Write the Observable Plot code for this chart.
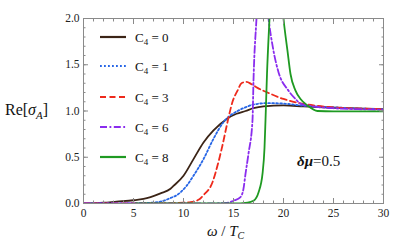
<!DOCTYPE html>
<html><head><meta charset="utf-8">
<script src="https://cdn.jsdelivr.net/npm/d3@7"></script>
<script src="https://cdn.jsdelivr.net/npm/@observablehq/plot@0.6"></script>
<style>
body{margin:0;background:#fff}
#chart{width:415px;height:250px}
#chart svg text{font-family:'Liberation Serif','DejaVu Serif',serif}
</style>
</head><body><div id="chart"></div>
<script>
// ---- data ----
const seriesNames = ["0", "1", "3", "6", "8"]; // C4 values

const c0X = [0, 2, 3.3, 5, 6, 6.7, 7.7, 8.7, 9, 10, 11, 12, 13, 14.4, 15.3, 16.2, 17, 18, 20, 22, 25, 28, 30];
const c0Y = [0, 0.008, 0.02, 0.035, 0.05, 0.07, 0.11, 0.16, 0.19, 0.30, 0.48, 0.66, 0.79, 0.92, 0.97, 1.0, 1.03, 1.05, 1.06, 1.05, 1.035, 1.025, 1.02];

const c1X = [0, 3, 5, 6, 7, 7.7, 8.5, 9.7, 10.3, 11, 12, 13, 14, 15.4, 16.2, 17, 18.4, 20, 21.7, 23, 25, 28, 30];
const c1Y = [0, 0, 0.003, 0.006, 0.01, 0.02, 0.05, 0.12, 0.19, 0.30, 0.48, 0.70, 0.88, 1.0, 1.04, 1.07, 1.085, 1.08, 1.06, 1.05, 1.04, 1.025, 1.02];

const c3X = [0, 5, 8, 9, 10, 10.7, 11.5, 12, 12.9, 13.4, 13.9, 14.4, 14.9, 15.4, 15.8, 16.3, 16.8, 17.4, 18.4, 20, 21.4, 23, 25, 28, 30];
const c3Y = [0, 0, 0.003, 0.005, 0.01, 0.015, 0.04, 0.09, 0.23, 0.41, 0.63, 0.88, 1.1, 1.22, 1.30, 1.315, 1.29, 1.25, 1.2, 1.13, 1.09, 1.06, 1.04, 1.025, 1.02];

const c6X = [0, 8, 12, 14, 14.5, 15, 15.7, 16.0, 16.2, 16.5, 16.9, 17.0, 17.3, 17.8, 18.5, 19.0, 19.5, 20.5, 21.2, 21.7, 23, 25, 27.5, 30];
const c6Y = [0, 0, 0, 0.005, 0.01, 0.03, 0.07, 0.16, 0.32, 0.54, 0.9, 1.33, 2.0, 2.8, 2.0, 1.65, 1.42, 1.22, 1.13, 1.08, 1.05, 1.03, 1.02, 1.015];

const c8X = [5.2, 10, 15, 16.4, 17, 17.5, 17.9, 18.1, 18.2, 18.35, 18.6, 19.2, 20.0, 20.4, 20.7, 21.2, 21.7, 22.4, 23.4, 25, 27.5, 30];
const c8Y = [0, 0, 0, 0.01, 0.03, 0.12, 0.32, 0.6, 0.9, 1.4, 2.0, 3.2, 2.0, 1.65, 1.4, 1.22, 1.13, 1.06, 1.0, 0.995, 0.995, 0.995];

const xMajorTicks = [0, 5, 10, 15, 20, 25, 30];
const yMajorTicks = [0, 0.5, 1.0, 1.5, 2.0];
const xMinorTicks = d3.range(0, 31, 1);
const yMinorTicks = d3.range(0, 2.001, 0.1);

// ---- styles ----
const colors = ["#3b2416", "#2766e6", "#ee2a1c", "#8a2cee", "#1f9a22"];
const dashes = [null, "1.8,2.2", "6,3.5", "7,2.5,1.8,2.5", null];

const seriesX = [c0X, c1X, c3X, c6X, c8X];
const seriesY = [c0Y, c1Y, c3Y, c6Y, c8Y];
const rows = [];
seriesX.forEach((xs, i) => xs.forEach((x, j) => rows.push({k: i, x, y: seriesY[i][j]})));

const tickColor = "#8a8a8a";
const plot = Plot.plot({
  width: 415, height: 250,
  marginLeft: 83, marginRight: 32, marginTop: 18, marginBottom: 47,
  style: {fontSize: "11.5px", color: "#222", background: "#fff"},
  x: {domain: [0, 30]},
  y: {domain: [0, 2]},
  marks: [
    ...seriesNames.map((_, i) => Plot.line(rows.filter(r => r.k === i), {
      x: "x", y: "y", stroke: colors[i], strokeWidth: 1.8,
      strokeDasharray: dashes[i], curve: "monotone-x", clip: true
    })),
    Plot.frame({stroke: tickColor}),
    Plot.axisX({ticks: xMinorTicks, tickSize: -2.5, tickFormat: () => "", label: null, stroke: tickColor}),
    Plot.axisX({ticks: xMajorTicks, tickSize: -5, tickFormat: () => "", label: null, stroke: tickColor}),
    Plot.axisX({anchor: "top", ticks: xMinorTicks, tickSize: -2.5, tickFormat: () => "", label: null, stroke: tickColor}),
    Plot.axisX({anchor: "top", ticks: xMajorTicks, tickSize: -5, tickFormat: () => "", label: null, stroke: tickColor}),
    Plot.axisY({ticks: yMinorTicks, tickSize: -2.5, tickFormat: () => "", label: null, stroke: tickColor}),
    Plot.axisY({ticks: yMajorTicks, tickSize: -5, tickFormat: () => "", label: null, stroke: tickColor}),
    Plot.axisY({anchor: "right", ticks: yMinorTicks, tickSize: -2.5, tickFormat: () => "", label: null, stroke: tickColor}),
    Plot.axisY({anchor: "right", ticks: yMajorTicks, tickSize: -5, tickFormat: () => "", label: null, stroke: tickColor}),
    Plot.axisX({ticks: xMajorTicks, tickSize: 0, tickPadding: 5, label: null}),
    Plot.axisY({ticks: yMajorTicks, tickSize: 0, tickPadding: 4, tickFormat: d3.format(".1f"), label: null})
  ]
});
document.getElementById("chart").append(plot);

// ---- annotations (legend, axis titles, δμ label) ----
const svg = d3.select(plot);

// legend inside the frame
const legendRowsY = [37, 66, 97, 127, 157];
const legend = svg.append("g").attr("text-anchor", "start");
seriesNames.forEach((name, i) => {
  legend.append("line")
    .attr("x1", 100).attr("x2", 126).attr("y1", legendRowsY[i]).attr("y2", legendRowsY[i])
    .attr("stroke", colors[i]).attr("stroke-width", 2.2)
    .attr("stroke-dasharray", dashes[i]);
  const t = legend.append("text")
    .attr("x", 135).attr("y", legendRowsY[i] + 4.5)
    .attr("font-size", 13).attr("fill", "#111");
  t.append("tspan").text("C");
  t.append("tspan").attr("font-size", 9).attr("dy", 3).text("4");
  t.append("tspan").attr("dy", -3).text(" = " + name);
});

// y title
const yt = svg.append("text").attr("x", 5).attr("y", 115).attr("text-anchor", "start")
  .attr("font-size", 16).attr("fill", "#111");
yt.append("tspan").text("Re[");
yt.append("tspan").attr("font-style", "italic").text("σ");
yt.append("tspan").attr("font-style", "italic").attr("font-size", 11).attr("dy", 4).text("A");
yt.append("tspan").attr("dy", -4).text("]");

// x title
const xt = svg.append("text").attr("x", 207).attr("y", 236).attr("text-anchor", "start")
  .attr("font-size", 15).attr("fill", "#111");
xt.append("tspan").attr("font-style", "italic").text("ω");
xt.append("tspan").text(" / ");
xt.append("tspan").attr("font-style", "italic").text("T");
xt.append("tspan").attr("font-style", "italic").attr("font-size", 10).attr("dy", 3).text("C");

// δμ label
const dm = svg.append("text").attr("x", 297).attr("y", 166).attr("text-anchor", "start")
  .attr("font-size", 15).attr("fill", "#111");
dm.append("tspan").attr("font-style", "italic").attr("font-weight", "bold").text("δμ");
dm.append("tspan").text("=0.5");
</script>
</body></html>
